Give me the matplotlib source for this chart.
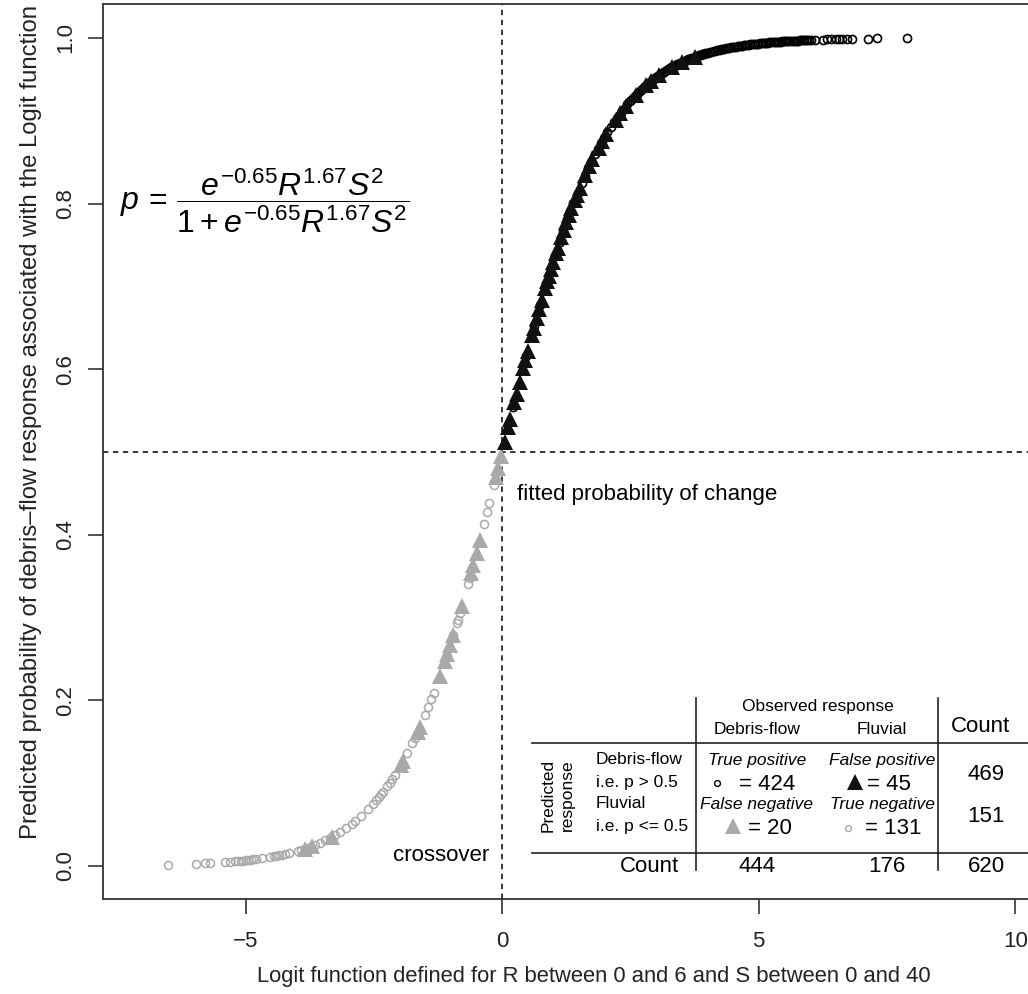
import numpy as np
import matplotlib
matplotlib.use('Agg')
import matplotlib.pyplot as plt
from matplotlib.lines import Line2D

plt.rcParams['font.family'] = ['Liberation Sans', 'DejaVu Sans']
plt.rcParams['mathtext.fontset'] = 'custom'
plt.rcParams['mathtext.rm'] = 'Liberation Sans'
plt.rcParams['mathtext.it'] = 'Liberation Sans:italic'
plt.rcParams['mathtext.bf'] = 'Liberation Sans:bold'

GREY = '#a9a9a9'

# logit values, one list per cell of the confusion matrix
tp_circles = [0.22, 0.47, 0.63, 0.74, 0.86, 0.97, 1.03, 1.12, 1.19, 1.27, 1.33, 1.39,
              1.47, 1.55, 1.61, 1.68, 1.74, 1.81, 1.87, 1.93, 1.99, 2.05, 2.12, 2.18,
              2.24, 2.31, 2.37, 2.44, 2.49, 2.55, 2.62, 2.68, 2.73, 2.79, 2.86, 2.92,
              2.97, 3.03, 3.09, 3.15, 3.21, 3.27, 3.33, 3.38, 3.44, 3.51, 3.57, 3.63,
              3.69, 3.75, 3.81, 3.87, 3.93, 3.99, 4.05, 4.12, 4.18, 4.24, 4.30, 4.37,
              4.43, 4.49, 4.56, 4.62, 4.68, 4.74, 4.81, 4.87, 4.93, 4.99, 5.06, 5.12,
              5.18, 5.24, 5.31, 5.37, 5.43, 5.49, 5.55, 5.61, 5.68, 5.74, 5.80, 5.86,
              5.92, 5.98, 6.02, 6.10, 6.26, 6.34, 6.41, 6.51, 6.57, 6.63, 6.73, 6.82,
              7.13, 7.31, 7.90,
              # the dense upper band, where the circles merge into one stroke
              2.52, 2.58, 2.65, 2.71, 2.76, 2.83, 2.89, 2.95, 3.00, 3.06, 3.12, 3.18,
              3.24, 3.30, 3.36, 3.41, 3.47, 3.54, 3.60, 3.66, 3.72, 3.78, 3.84, 3.90,
              3.96, 4.02, 4.08, 4.15, 4.21, 4.27, 4.33, 4.40, 4.46, 4.52, 4.59, 4.65,
              4.71, 4.77, 4.84, 4.90, 4.96, 5.02, 5.09, 5.15, 5.21, 5.27, 5.34, 5.40,
              5.46, 5.52, 5.58, 5.64, 5.71, 5.77, 5.83, 5.89, 5.95]
fp_triangles = [0.05, 0.12, 0.16, 0.24, 0.28, 0.34, 0.41, 0.45, 0.50, 0.58, 0.62, 0.67,
                0.72, 0.77, 0.84, 0.88, 0.91, 0.95, 0.99, 1.05, 1.08, 1.15, 1.20, 1.25,
                1.30, 1.35, 1.41, 1.45, 1.51, 1.62, 1.70, 1.76, 1.88, 1.95, 2.03, 2.21,
                2.30, 2.41, 2.60, 2.81, 2.90, 3.06, 3.31, 3.51, 3.75]
fn_triangles = [-0.02, -0.08, -0.12, -0.43, -0.50, -0.56, -0.60, -0.78, -0.95, -1.01,
                -1.07, -1.11, -1.21, -1.60, -1.65, -1.93, -1.98, -3.31, -3.70, -3.85]
tn_circles = [-6.51, -5.96, -5.79, -5.69, -5.40, -5.30, -5.20, -5.15, -5.10, -5.05,
              -5.00, -4.95, -4.90, -4.85, -4.80, -4.68, -4.52, -4.45, -4.40, -4.35,
              -4.30, -4.23, -4.15, -3.97, -3.93, -3.85, -3.75, -3.65, -3.55, -3.45,
              -3.35, -3.25, -3.16, -3.04, -2.92, -2.87, -2.75, -2.61, -2.51, -2.45,
              -2.40, -2.36, -2.32, -2.24, -2.19, -2.14, -2.09, -1.85, -1.75, -1.70,
              -1.50, -1.44, -1.38, -1.33, -1.08, -0.95, -0.88, -0.86, -0.82, -0.66,
              -0.63, -0.35, -0.29, -0.25, -0.16]

# confusion matrix as printed in the inset table
cell_counts = {'tp': 424, 'fp': 45, 'fn': 20, 'tn': 131}
row_totals = [469, 151]
col_totals = [444, 176]
grand_total = 620


def prob(x):
    # p = exp(L) / (1 + exp(L)), L being the logit on the x axis
    x = np.asarray(x)
    return np.exp(x) / (1 + np.exp(x))


W, H = 1028, 994
fig = plt.figure(figsize=(W / 100, H / 100), dpi=100)
ax = fig.add_axes([103 / W, 1 - 899 / H, (1085 - 103) / W, (899 - 4) / H])


def fx(px):
    return px / W


def fy(py):
    return 1 - py / H


ax.plot(tn_circles, prob(tn_circles), 'o', mfc='none', mec=GREY, ms=5.8, mew=1.1)
ax.plot(tp_circles, prob(tp_circles), 'o', mfc='none', mec='k', ms=5.8, mew=1.2)
ax.plot(fn_triangles, prob(fn_triangles), '^', color=GREY, ms=12, mew=0)
ax.plot(fp_triangles, prob(fp_triangles), '^', color='#111111', ms=12, mew=0)

ax.axvline(0, color='k', lw=1.1, dashes=(3.5, 3), zorder=1)
ax.axhline(0.5, color='k', lw=1.1, dashes=(3.5, 3), zorder=1)

ax.set_xlim(-7.78, 11.36)
ax.set_ylim(-0.040, 1.041)
ax.set_xticks([-5, 0, 5, 10])
ax.set_yticks([0.0, 0.2, 0.4, 0.6, 0.8, 1.0])
ax.set_yticklabels(['0.0', '0.2', '0.4', '0.6', '0.8', '1.0'])
ax.tick_params(direction='out', length=11, width=1.1, labelsize=16, colors='#222222')
ax.tick_params(axis='x', pad=12)
ax.tick_params(axis='y', pad=8)
for lab in ax.get_yticklabels():
    lab.set_rotation(90)
    lab.set_va('center')
for s in ax.spines.values():
    s.set_linewidth(1.3)
    s.set_color('#333333')

ax.set_xlabel('Logit function defined for R between 0 and 6 and S between 0 and 40',
              fontsize=15.8, labelpad=10, color='#222222')
ax.set_ylabel('Predicted probability of debris\u2013flow response associated with the Logit function',
              fontsize=17.2, color='#222222')
ax.yaxis.set_label_coords(-0.0625, 0.533)

ax.text(0.29, 0.448, 'fitted probability of change', fontsize=16, ha='left', va='center')
ax.text(-0.25, 0.013, 'crossover', fontsize=16, ha='right', va='center')
ax.text(-7.45, 0.804,
        r'$p\,=\,\dfrac{e^{-0.65}R^{1.67}S^2}{1+e^{-0.65}R^{1.67}S^2}$',
        fontsize=23, ha='left', va='center')

# inset confusion table, laid out in figure pixels
line_kw = dict(color='#222222', lw=1.2)
fig.add_artist(Line2D([fx(532), 1.0], [fy(743), fy(743)], **line_kw))
fig.add_artist(Line2D([fx(532), 1.0], [fy(853), fy(853)], **line_kw))
fig.add_artist(Line2D([fx(696), fx(696)], [fy(698), fy(870)], **line_kw))
fig.add_artist(Line2D([fx(938), fx(938)], [fy(698), fy(870)], **line_kw))

small = 12.5
big = 16
fig.text(fx(818), fy(706), 'Observed response', fontsize=small, ha='center', va='center')
fig.text(fx(757), fy(729), 'Debris-flow', fontsize=small, ha='center', va='center')
fig.text(fx(882), fy(729), 'Fluvial', fontsize=small, ha='center', va='center')
fig.text(fx(981), fy(727), 'Count', fontsize=big, ha='center', va='center')

fig.text(fx(548), fy(795), 'Predicted', fontsize=small, rotation=90, ha='center', va='center')
fig.text(fx(567), fy(795), 'response', fontsize=small, rotation=90, ha='center', va='center')
fig.text(fx(596), fy(760), 'Debris-flow', fontsize=small, ha='left', va='center')
fig.text(fx(596), fy(782), 'i.e. p > 0.5', fontsize=small, ha='left', va='center')
fig.text(fx(596), fy(804), 'Fluvial', fontsize=small, ha='left', va='center')
fig.text(fx(596), fy(826), 'i.e. p <= 0.5', fontsize=small, ha='left', va='center')

fig.text(fx(757), fy(760), 'True positive', fontsize=small, style='italic', ha='center', va='center')
fig.text(fx(882), fy(760), 'False positive', fontsize=small, style='italic', ha='center', va='center')
fig.text(fx(757), fy(804), 'False negative', fontsize=small, style='italic', ha='center', va='center')
fig.text(fx(882), fy(804), 'True negative', fontsize=small, style='italic', ha='center', va='center')

fig.text(fx(739), fy(784), '= %d' % cell_counts['tp'], fontsize=big, ha='left', va='center')
fig.text(fx(867), fy(784), '= %d' % cell_counts['fp'], fontsize=big, ha='left', va='center')
fig.text(fx(748), fy(828), '= %d' % cell_counts['fn'], fontsize=big, ha='left', va='center')
fig.text(fx(865), fy(828), '= %d' % cell_counts['tn'], fontsize=big, ha='left', va='center')
fig.add_artist(Line2D([fx(717)], [fy(783)], marker='o', mfc='none', mec='k', ms=4.2, mew=1.0))
fig.add_artist(Line2D([fx(855)], [fy(782)], marker='^', color='#111111', ms=12, mew=0))
fig.add_artist(Line2D([fx(733)], [fy(826)], marker='^', color=GREY, ms=12, mew=0))
fig.add_artist(Line2D([fx(848)], [fy(828)], marker='o', mfc='none', mec=GREY, ms=4.2, mew=1.0))

fig.text(fx(986), fy(774), str(row_totals[0]), fontsize=big, ha='center', va='center')
fig.text(fx(986), fy(817), str(row_totals[1]), fontsize=big, ha='center', va='center')
fig.text(fx(679), fy(867), 'Count', fontsize=big, ha='right', va='center')
fig.text(fx(757), fy(867), str(col_totals[0]), fontsize=big, ha='center', va='center')
fig.text(fx(887), fy(867), str(col_totals[1]), fontsize=big, ha='center', va='center')
fig.text(fx(986), fy(867), str(grand_total), fontsize=big, ha='center', va='center')

fig.savefig('out.png', dpi=100)
